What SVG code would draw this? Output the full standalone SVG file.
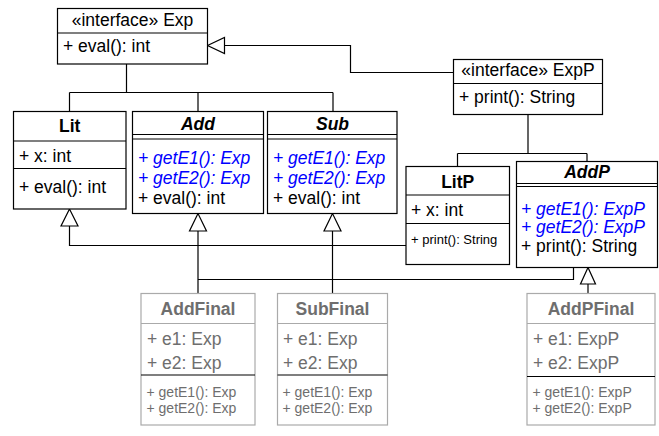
<svg xmlns="http://www.w3.org/2000/svg" width="659" height="436" viewBox="0 0 659 436">
<style>
  text { font-family: "Liberation Sans", Arial, Helvetica, sans-serif; font-size: 17.5px; fill: #000; }
  .box { fill: #fff; stroke: #000; stroke-width: 1.2; }
  .gbox { fill: #fff; stroke: #aaa; stroke-width: 1.2; }
  .div { stroke: #000; stroke-width: 1.2; fill: none; }
  .gdiv { stroke: #aaa; stroke-width: 1.2; fill: none; }
  .title { font-weight: bold; text-anchor: middle; }
  .abs { font-weight: bold; font-style: italic; text-anchor: middle; }
  .mid { text-anchor: middle; }
  .blue { fill: #0000ff; font-style: italic; }
  .small { font-size: 13px; }
  .gsmall { font-size: 14px; }
  .gt { fill: #6e6e6e; }
  .gtitle { fill: #6e6e6e; font-weight: bold; text-anchor: middle; }
  .line { stroke: #000; stroke-width: 1.2; fill: none; }
  .tri { fill: #fff; stroke: #000; stroke-width: 1.2; }
</style>

<g id="connectors">
  <!-- ExpP extends Exp -->
  <path class="line" d="M453.5,72.5 H350.5 V45.5 H224.5"/>
  <polygon class="tri" points="207.5,45.5 224.5,37.5 224.5,53.5"/>
  <!-- Exp to Lit, Add, Sub -->
  <path class="line" d="M126.5,64 V92.5 M69.5,92.5 H333 M69.5,92.5 V111.5 M198,92.5 V111.5 M333,92.5 V111.5"/>
  <!-- ExpP to LitP, AddP -->
  <path class="line" d="M528,114.5 V153.5 M457.5,153.5 H587 M457.5,153.5 V166.5 M587,153.5 V161.5"/>
  <!-- LitP extends Lit -->
  <path class="line" d="M69.5,226 V245.5 H406"/>
  <polygon class="tri" points="69.5,209 61,226 78,226"/>
  <!-- AddFinal, AddP extend Add -->
  <path class="line" d="M198,231 V293.5 M198,279.5 H573.5 V267.5"/>
  <polygon class="tri" points="198,213.5 189.5,231 206.5,231"/>
  <!-- SubFinal extends Sub -->
  <path class="line" d="M332.5,231 V293.5"/>
  <polygon class="tri" points="332.5,213.5 324,231 341,231"/>
  <!-- AddPFinal extends AddP -->
  <path class="line" d="M588,284 V293.5"/>
  <polygon class="tri" points="588,267.5 580.5,284 595.5,284"/>
</g>

<g id="Exp">
  <rect class="box" x="57.5" y="8.5" width="150" height="55.5"/>
  <line class="div" x1="57.5" y1="33" x2="207.5" y2="33"/>
  <text class="mid" x="132.5" y="26">«interface» Exp</text>
  <text x="63" y="52">+ eval(): int</text>
</g>

<g id="ExpP">
  <rect class="box" x="453.5" y="59.5" width="149" height="55"/>
  <line class="div" x1="453.5" y1="83.5" x2="602.5" y2="83.5"/>
  <text class="mid" x="528" y="76">«interface» ExpP</text>
  <text x="459" y="103">+ print(): String</text>
</g>

<g id="Lit">
  <rect class="box" x="13.5" y="111.5" width="112.5" height="97.5"/>
  <line class="div" x1="13.5" y1="141" x2="126" y2="141"/>
  <line class="div" x1="13.5" y1="168.5" x2="126" y2="168.5"/>
  <text class="title" x="69.75" y="132">Lit</text>
  <text x="19" y="162">+ x: int</text>
  <text x="19" y="193">+ eval(): int</text>
</g>

<g id="Add">
  <rect class="box" x="132.5" y="111.5" width="131" height="102"/>
  <line class="div" x1="132.5" y1="134.5" x2="263.5" y2="134.5"/>
  <line class="div" x1="132.5" y1="139" x2="263.5" y2="139"/>
  <text class="abs" x="198" y="129.5">Add</text>
  <text class="blue" x="138" y="163.5">+ getE1(): Exp</text>
  <text class="blue" x="138" y="183.5">+ getE2(): Exp</text>
  <text x="138" y="203.5">+ eval(): int</text>
</g>

<g id="Sub">
  <rect class="box" x="267.5" y="111.5" width="129.5" height="102"/>
  <line class="div" x1="267.5" y1="134.5" x2="397" y2="134.5"/>
  <line class="div" x1="267.5" y1="139" x2="397" y2="139"/>
  <text class="abs" x="332.5" y="129.5">Sub</text>
  <text class="blue" x="273" y="163.5">+ getE1(): Exp</text>
  <text class="blue" x="273" y="183.5">+ getE2(): Exp</text>
  <text x="273" y="203.5">+ eval(): int</text>
</g>

<g id="LitP">
  <rect class="box" x="406" y="166.5" width="103.5" height="98"/>
  <line class="div" x1="406" y1="195" x2="509.5" y2="195"/>
  <line class="div" x1="406" y1="223.5" x2="509.5" y2="223.5"/>
  <text class="title" x="457.7" y="187.5">LitP</text>
  <text x="411" y="216">+ x: int</text>
  <text class="small" x="411" y="243.5">+ print(): String</text>
</g>

<g id="AddP">
  <rect class="box" x="516.5" y="161.5" width="141" height="106"/>
  <line class="div" x1="516.5" y1="183.5" x2="657.5" y2="183.5"/>
  <line class="div" x1="516.5" y1="186.5" x2="657.5" y2="186.5"/>
  <text class="abs" x="587" y="177.5">AddP</text>
  <text class="blue" x="521" y="214.5">+ getE1(): ExpP</text>
  <text class="blue" x="521" y="233">+ getE2(): ExpP</text>
  <text x="521" y="251.5">+ print(): String</text>
</g>

<g id="AddFinal">
  <rect class="gbox" x="141" y="293.5" width="114" height="131.5"/>
  <line class="gdiv" x1="141" y1="323.5" x2="255" y2="323.5"/>
  <line class="div" x1="141" y1="375" x2="255" y2="375"/>
  <text class="gtitle" x="198" y="314.5">AddFinal</text>
  <text class="gt" x="147" y="345">+ e1: Exp</text>
  <text class="gt" x="147" y="368.5">+ e2: Exp</text>
  <text class="gt gsmall" x="146.5" y="396.5">+ getE1(): Exp</text>
  <text class="gt gsmall" x="146.5" y="412.5">+ getE2(): Exp</text>
</g>

<g id="SubFinal">
  <rect class="gbox" x="277.5" y="293.5" width="110" height="131.5"/>
  <line class="gdiv" x1="277.5" y1="323.5" x2="387.5" y2="323.5"/>
  <line class="div" x1="277.5" y1="375" x2="387.5" y2="375"/>
  <text class="gtitle" x="332.5" y="314.5">SubFinal</text>
  <text class="gt" x="283" y="345">+ e1: Exp</text>
  <text class="gt" x="283" y="368.5">+ e2: Exp</text>
  <text class="gt gsmall" x="282.5" y="396.5">+ getE1(): Exp</text>
  <text class="gt gsmall" x="282.5" y="412.5">+ getE2(): Exp</text>
</g>

<g id="AddPFinal">
  <rect class="gbox" x="527" y="293.5" width="128" height="131.5"/>
  <line class="gdiv" x1="527" y1="323.5" x2="655" y2="323.5"/>
  <line class="div" x1="527" y1="376.5" x2="655" y2="376.5"/>
  <text class="gtitle" x="591" y="315">AddPFinal</text>
  <text class="gt" x="533" y="345">+ e1: ExpP</text>
  <text class="gt" x="533" y="368.5">+ e2: ExpP</text>
  <text class="gt gsmall" x="532.5" y="396.5">+ getE1(): ExpP</text>
  <text class="gt gsmall" x="532.5" y="413">+ getE2(): ExpP</text>
</g>
</svg>
